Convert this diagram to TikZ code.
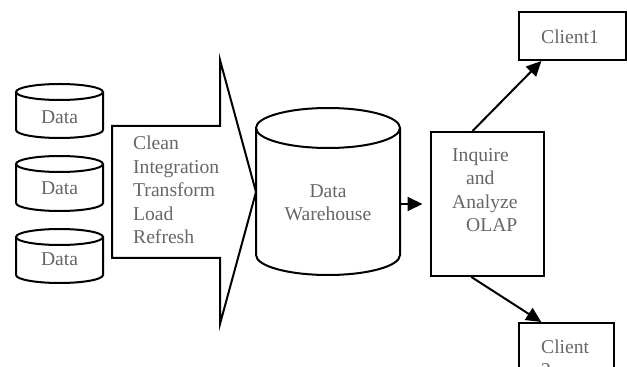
\documentclass[tikz,border=0pt]{standalone}
\usepackage{fontspec}
\setmainfont{Liberation Serif}
\usetikzlibrary{arrows.meta,calc}
\definecolor{labelgray}{HTML}{666666}

% drum (database cylinder): left x, right x, top-rim y, bottom-rim y, rim radius
\newcommand\dbdrum[5]{%
  \draw[outline] (#1,#3) -- (#1,#4)
    arc[start angle=180,end angle=360,x radius={(#2-#1)/2*1pt},y radius=#5pt]
    -- (#2,#3);
  \draw[outline] ({(#1+#2)/2},#3) ellipse[x radius={(#2-#1)/2*1pt},y radius=#5pt];}

\begin{document}
\begin{tikzpicture}[x=1pt,y=1pt,
  outline/.style={line width=2pt,draw=black,line join=miter},
  lbl/.style={text=labelgray,font=\fontsize{19.6}{23.5}\selectfont,inner sep=0pt},
  box/.style={outline,inner sep=0pt},
  flow/.style={line width=2pt,-{Triangle[length=15pt,width=14pt]}},
]
\useasboundingbox (0,0) rectangle (627,367);
\clip (0,0) rectangle (627,367);

% source databases
\dbdrum{16}{103}{275}{237}{8}
\dbdrum{16}{103}{203}{164}{8}
\dbdrum{16}{103}{130}{92}{8}
\node[lbl,anchor=base] (src1) at (59.5,243.5) {Data};
\node[lbl,anchor=base] (src2) at (59.5,172.5) {Data};
\node[lbl,anchor=base] (src3) at (59.5,101.5) {Data};

% ETL block arrow
\draw[outline] (112,241) -- (220,241) -- (220,307) -- (256,175)
  -- (220,43) -- (220,109) -- (112,109) -- cycle;
\node[lbl,anchor=north west,align=left] (etl) at (133,231)
  {Clean\\Integration\\Transform\\Load\\Refresh};

% data warehouse
\dbdrum{256}{400}{239}{112}{20}
\node[minimum width=144pt,minimum height=147pt,inner sep=0pt] (dwbody) at (328,165.5) {};
\node[lbl,anchor=north,align=center] (dw) at (328,183) {Data\\Warehouse};

% OLAP box
\node[box,minimum width=113pt,minimum height=144pt] (olap) at (487.5,163) {};
\node[lbl,anchor=north west,align=left] (olaptext) at (452,219)
  {Inquire\\\hspace*{14pt}and\\Analyze\\\hspace*{14pt}OLAP};

% clients
\node[box,minimum width=107pt,minimum height=48pt] (client1) at (572.5,331) {};
\node[lbl,anchor=base west] (client1text) at (541,323.5) {Client1};
\node[box,minimum width=95pt,minimum height=88pt] (client2) at (566.5,0) {};
\node[lbl,anchor=north west,align=left] (client2text) at (541,27.3) {Client\\2};

% connectors
\draw[flow,shorten >=7.5pt] (dwbody.east |- olap.west) -- (olap.west);
\draw[flow] ($(olap.north west)!0.37!(olap.north east)$)
  -- ($(client1.south west)!0.215!(client1.south east)$);
\draw[flow] ($(olap.south west)!0.36!(olap.south east)$)
  -- ($(client2.north west)!0.24!(client2.north east)$);
\end{tikzpicture}
\end{document}
